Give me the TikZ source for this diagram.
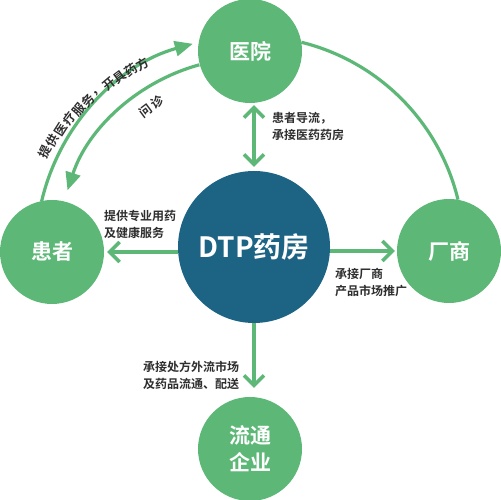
\documentclass[tikz,border=0pt]{standalone}
\usepackage{fontspec}
\setmainfont{Noto Sans CJK SC Bold}
\usetikzlibrary{arrows.meta,calc,backgrounds}
\definecolor{cgreen}{HTML}{5DB878}
\definecolor{cblue}{HTML}{1D6384}
\definecolor{ctext}{HTML}{2E2E2E}
\tikzset{
  gcirc/.style={circle,fill=cgreen,inner sep=0pt,minimum size=104bp,text=white,align=center,font=\fontsize{21bp}{27bp}\selectfont},
  bcirc/.style={circle,fill=cblue,inner sep=0pt,minimum size=152bp,text=white,font=\fontsize{28bp}{34bp}\selectfont},
  lbl/.style={text=ctext,align=left,inner sep=0pt,font=\fontsize{12bp}{17bp}\selectfont},
  chv/.style={line width=3.5bp,draw=cgreen,-{Straight Barb[length=10bp,width=20bp]}},
  chv2/.style={line width=3.5bp,draw=cgreen,{Straight Barb[length=10bp,width=20bp]}-{Straight Barb[length=10bp,width=20bp]}},
  arcline/.style={line width=3.2bp,draw=cgreen},
  arcarrow/.style={line width=3.2bp,draw=cgreen,-{Triangle[length=18bp,width=15bp]}},
  arcch/.style={text=ctext,inner sep=0pt,font=\fontsize{12.5bp}{12.5bp}\selectfont}
}
\begin{document}
\begin{tikzpicture}[x=1bp,y=1bp]
\useasboundingbox (0,0) rectangle (500,500);
\coordinate (c) at (250,250);
% nodes
\node[gcirc] (hosp) at (250,449) {医院};
\node[gcirc] (pat) at (52,248) {患者};
\node[gcirc] (maker) at (449,249) {厂商};
\node[gcirc] (dist) at (250,51) {流通\\企业};
\node[bcirc] (dtp) at (254,253) {DTP药房};
% arcs
\begin{pgfonlayer}{background}
\draw[arcarrow] ($(c)+(166.8:214bp)$) arc[start angle=166.8,end angle=105.5,radius=214bp];
\draw[arcarrow] ($(c)+(105.3:192bp)$) arc[start angle=105.3,end angle=161.9,radius=192bp];
\draw[arcline] ($(c)+(76.1:214bp)$) arc[start angle=76.1,end angle=13.6,radius=214bp];
\end{pgfonlayer}
% straight connectors
\draw[chv2,shorten <=2bp,shorten >=4bp] (dtp.north |- hosp.south) -- (dtp.north);
\draw[chv,shorten >=3bp] (dtp.west |- pat.east) -- (pat.east);
\draw[chv,shorten >=2bp] (dtp.east |- maker.west) -- (maker.west);
\draw[chv,shorten >=9bp] (dtp.south) -- (dtp.south |- dist.north);
% labels
\node[lbl,anchor=west] (l1) at (272,373.5) {患者导流，\\承接医药药房};
\node[lbl,anchor=west] (l2) at (104,276) {提供专业用药\\及健康服务};
\node[lbl,anchor=west] (l3) at (335,217.5) {承接厂商\\产品市场推广};
\node[lbl,anchor=west] (l4) at (143,125) {承接处方外流市场\\及药品流通、配送};
% arc texts
\foreach \ch [count=\i from 0] in {提,供,医,疗,服,务,，,开,具,药,方} {
  \pgfmathsetmacro\ang{154.4-3.44*\i}
  \pgfmathsetmacro\rad{227-1.3*\i}
  \node[arcch,rotate=\ang-90] (t\i) at ($(c)+(\ang:\rad bp)$) {\ch};
}
\node[arcch,rotate=36.8] (w1) at ($(c)+(126.8:174bp)$) {问};
\node[arcch,rotate=32.1] (w2) at ($(c)+(122.1:174.4bp)$) {诊};
\end{tikzpicture}
\end{document}
